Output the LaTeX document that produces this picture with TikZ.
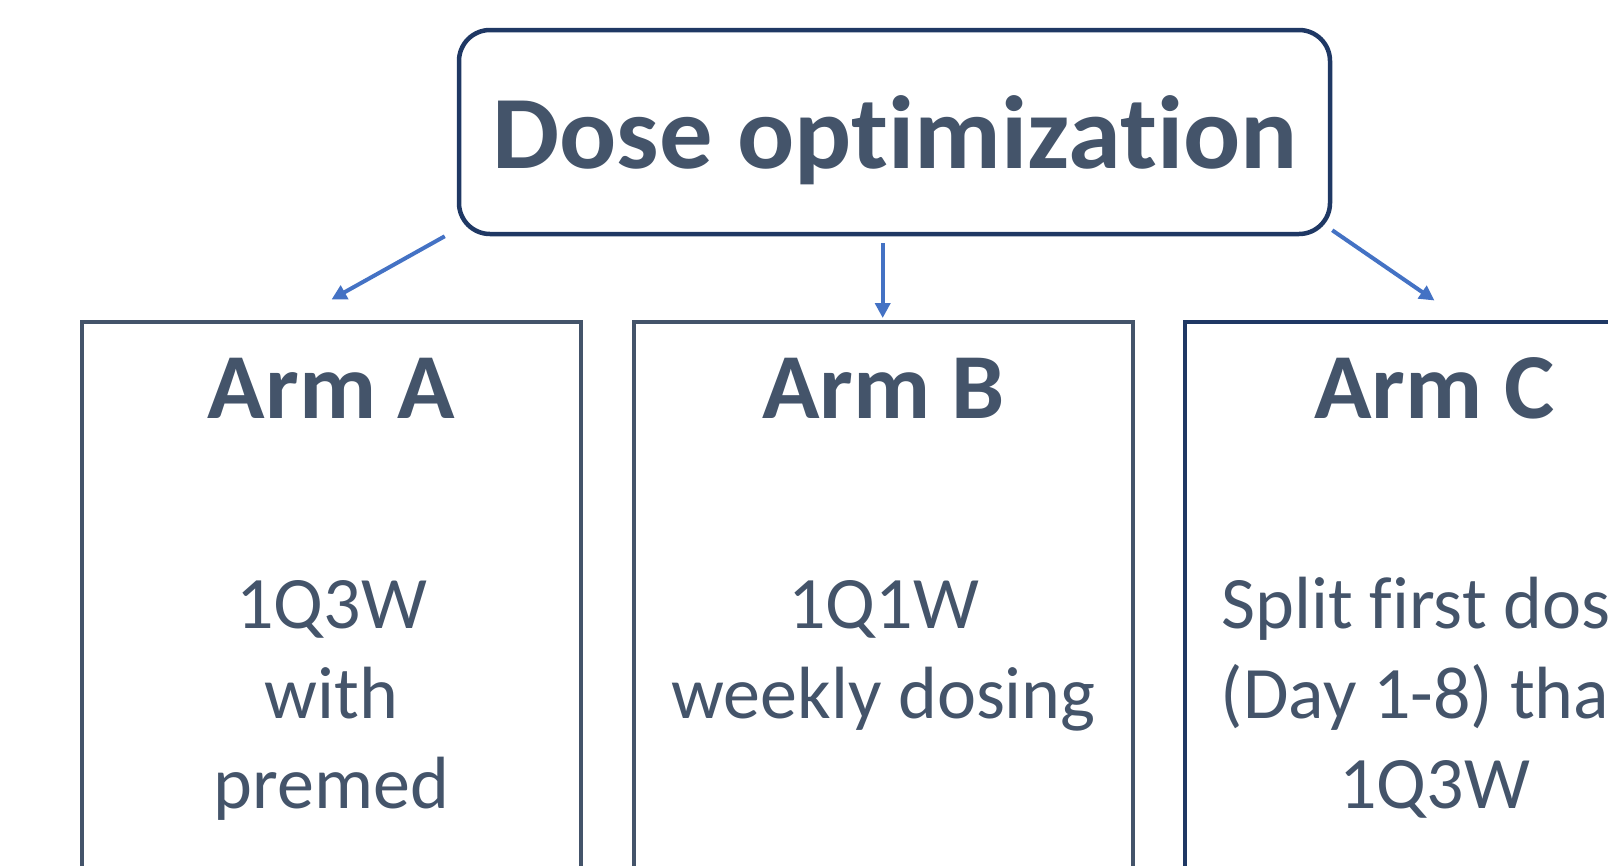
\documentclass[tikz,border=0pt]{standalone}
\usepackage{fontspec}
\setmainfont{Carlito}[Ligatures=NoCommon]
\usetikzlibrary{arrows.meta,calc}
\definecolor{slate}{HTML}{44546A}
\definecolor{navy}{HTML}{1F3864}
\definecolor{accent}{HTML}{4472C4}
\newcommand{\widen}[2]{\scalebox{#1}[1]{#2}}
\tikzset{
  headbox/.style={draw=navy, line width=4.5pt, rounded corners=31pt, inner sep=0pt},
  armbox/.style={line width=4.5pt, inner sep=0pt, anchor=north,
                 minimum width=499pt, minimum height=600pt},
  headtext/.style={anchor=base, text=slate, inner sep=0pt,
                   font=\fontsize{104}{124}\selectfont\bfseries},
  armtitle/.style={anchor=base, text=slate, inner sep=0pt,
                   font=\fontsize{93}{112}\selectfont\bfseries},
  armline/.style={anchor=base, text=slate, inner sep=0pt,
                  font=\fontsize{74}{90}\selectfont},
  link/.style={draw=accent, line width=4pt,
               -{Triangle[length=15pt,width=15pt]}}
}
\begin{document}
\begin{tikzpicture}[x=1pt,y=-1pt]
\useasboundingbox (0,0) rectangle (1608,865);
\clip (0,0) rectangle (1608,865);

% heading
\node[headbox, minimum width=871pt, minimum height=204pt] (top) at (894.5,132) {};
\node[headtext] (title) at (895,168) {\widen{1.025}{Dose optimization}};

% the three arms
\node[armbox, draw=slate] (armA) at (331.5,319.5) {};
\node[armbox, draw=slate] (armB) at (883.5,319.5) {};
\node[armbox, draw=navy]  (armC) at (1434.5,319.5) {};

\node[armtitle] (tA) at (331.5,418) {\widen{1.02}{Arm A}};
\node[armtitle] (tB) at (883.5,418) {\widen{1.02}{Arm B}};
\node[armtitle] (tC) at (1434.5,418) {\widen{1.02}{Arm C}};

\node[armline] (a1) at (331.5,628) {1Q3W};
\node[armline] (a2) at (331.5,718) {with};
\node[armline] (a3) at (331.5,808) {premed};

\node[armline] (b1) at (883.5,628) {1Q1W};
\node[armline] (b2) at (883.5,718) {weekly dosing};

\node[armline] (c1) at (1434.5,628) {Split first dose};
\node[armline] (c2) at (1434.5,718) {(Day 1-8) than};
\node[armline] (c3) at (1434.5,808) {1Q3W};

% connectors
\coordinate (sA) at ($(top.south west)+(-12,0)$);
\coordinate (eA) at ($(armA.north)+(0,-20)$);
\coordinate (sB) at ($(top.south)+(-11.8,7)$);
\coordinate (eB) at ($(armB.north)+(-0.8,-1.5)$);
\coordinate (sC) at ($(top.south east)+(0,-6)$);
\coordinate (eC) at ($(armC.north)+(0,-19)$);
\draw[link] (sA) -- (eA);
\draw[link] (sB) -- (eB);
\draw[link] (sC) -- (eC);
\end{tikzpicture}
\end{document}
